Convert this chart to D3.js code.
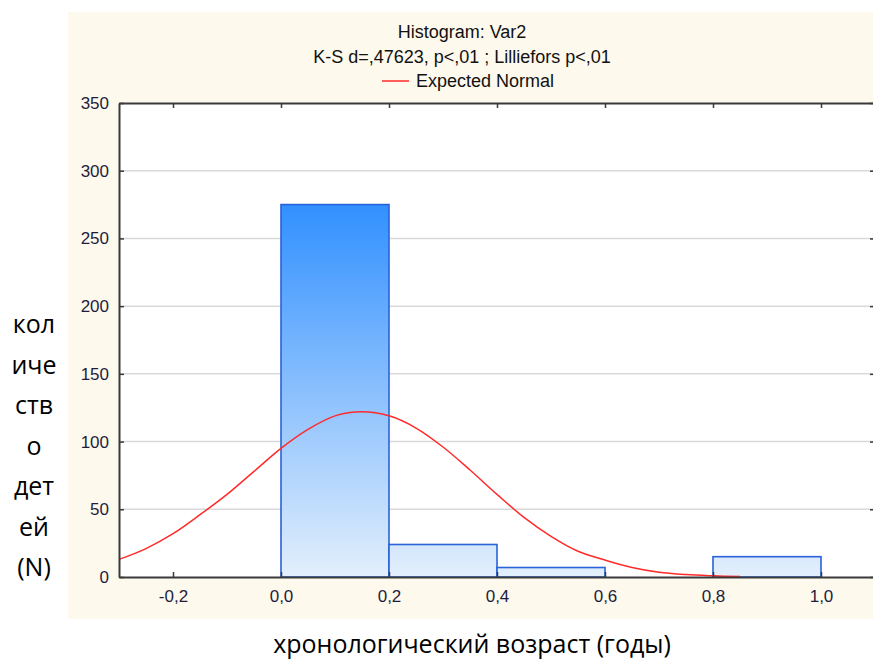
<!DOCTYPE html>
<html>
<head>
<meta charset="utf-8">
<script src="https://cdn.jsdelivr.net/npm/d3@7"></script>
<style>
  body { margin: 0; background: #fff; }
  svg { display: block; }
</style>
</head>
<body>
<div id="chart"></div>
<script>
// histogram bins (left edge, right edge, count)
const binStart = [0.0, 0.2, 0.4, 0.6, 0.8];
const binEnd = [0.2, 0.4, 0.6, 0.8, 1.0];
const binCount = [275, 24, 7, 0, 15];

// expected normal curve
const curveX = [-0.3, -0.25, -0.2, -0.15, -0.1, -0.05, 0.0, 0.05, 0.1, 0.15, 0.2, 0.25,
  0.3, 0.35, 0.4, 0.45, 0.5, 0.55, 0.6, 0.65, 0.7, 0.75, 0.8, 0.85];
const curveY = [13, 21, 32, 46, 61, 78, 95, 109, 119, 122, 119, 110,
  96, 79, 61, 44, 30, 19, 12.5, 7, 3.5, 1.8, 0.9, 0.3];

const xTicks = [-0.2, 0.0, 0.2, 0.4, 0.6, 0.8, 1.0];
const yTicks = [0, 50, 100, 150, 200, 250, 300, 350];

const titleLines = ["Histogram: Var2", "K-S d=,47623, p<,01 ; Lilliefors p<,01"];
const legendLabel = "Expected Normal";
const yTitleLines = ["кол", "иче", "ств", "о", "дет", "ей", "(N)"];
const xTitle = "хронологический возраст (годы)";

const W = 873, H = 662;
const plot = { left: 119, right: 875, top: 103, bottom: 577 };
const narrow = "'Liberation Sans Narrow', 'Arial Narrow', 'Liberation Sans', Arial, sans-serif";
const wordFont = "'Open Sans', 'Noto Sans', sans-serif";

const svg = d3.select("#chart").append("svg")
  .attr("width", W).attr("height", H);

// cream panel
svg.append("rect")
  .attr("x", 68).attr("y", 12)
  .attr("width", W - 68).attr("height", 607)
  .attr("fill", "#fdf9ed");

const x = d3.scaleLinear().domain([-0.3, 1.1]).range([plot.left, plot.right]);
const y = d3.scaleLinear().domain([0, 350]).range([plot.bottom, plot.top]);

svg.append("rect")
  .attr("x", plot.left).attr("y", plot.top)
  .attr("width", plot.right - plot.left).attr("height", plot.bottom - plot.top)
  .attr("fill", "#fff");

// gridlines
svg.append("g")
  .selectAll("line")
  .data(yTicks.filter((d) => d > 0 && d < 350))
  .join("line")
  .attr("x1", plot.left).attr("x2", plot.right)
  .attr("y1", (d) => y(d)).attr("y2", (d) => y(d))
  .attr("stroke", "#d9d9d9").attr("stroke-width", 1.5);

// gradient in plot space: dark at top of tallest bar, light at bottom
const grad = svg.append("defs").append("linearGradient")
  .attr("id", "barFill")
  .attr("gradientUnits", "userSpaceOnUse")
  .attr("x1", 0).attr("x2", 0)
  .attr("y1", y(d3.max(binCount))).attr("y2", y(0));
grad.append("stop").attr("offset", "0%").attr("stop-color", "#3190ff");
grad.append("stop").attr("offset", "100%").attr("stop-color", "#e3effc");

svg.append("g")
  .selectAll("rect")
  .data(binCount.map((c, i) => ({ x0: binStart[i], x1: binEnd[i], c })).filter((d) => d.c > 0))
  .join("rect")
  .attr("x", (d) => x(d.x0))
  .attr("y", (d) => y(d.c))
  .attr("width", (d) => x(d.x1) - x(d.x0))
  .attr("height", (d) => y(0) - y(d.c))
  .attr("fill", "url(#barFill)")
  .attr("stroke", "#2a62d8")
  .attr("stroke-width", 1.6);

// expected normal
const line = d3.line()
  .x((d) => x(d[0]))
  .y((d) => y(d[1]))
  .curve(d3.curveCatmullRom);

svg.append("path")
  .datum(curveX.map((v, i) => [v, curveY[i]]))
  .attr("d", line)
  .attr("fill", "none")
  .attr("stroke", "#ff2a2a")
  .attr("stroke-width", 1.5);

// axes frame
const axisColor = "#3a3a3a";
const xAxisB = d3.axisBottom(x).tickValues(xTicks).tickSizeInner(-5).tickSizeOuter(0)
  .tickFormat((d) => d3.format(".1f")(d).replace(".", ",").replace("−", "-"));
const gB = svg.append("g").attr("transform", `translate(0,${plot.bottom})`).call(xAxisB);
gB.select(".domain").attr("stroke", axisColor).attr("stroke-width", 2);
gB.selectAll(".tick line").attr("stroke", axisColor).attr("stroke-width", 1.5);
gB.selectAll(".tick text")
  .attr("y", 13).attr("dy", "0.71em")
  .attr("fill", "#1e1e3c")
  .style("font-family", narrow).style("font-size", "17px");

const gT = svg.append("g").attr("transform", `translate(0,${plot.top})`)
  .call(d3.axisTop(x).tickValues(xTicks).tickSizeInner(-5).tickSizeOuter(0).tickFormat(""));
gT.select(".domain").attr("stroke", axisColor).attr("stroke-width", 2);
gT.selectAll(".tick line").attr("stroke", axisColor).attr("stroke-width", 1.5);

const yAxisL = d3.axisLeft(y).tickValues(yTicks).tickSizeInner(-5).tickSizeOuter(0);
const gL = svg.append("g").attr("transform", `translate(${plot.left},0)`).call(yAxisL);
gL.select(".domain").attr("stroke", axisColor).attr("stroke-width", 2);
gL.selectAll(".tick line").attr("stroke", axisColor).attr("stroke-width", 1.5);
gL.selectAll(".tick text")
  .attr("x", -10)
  .attr("fill", "#1e1e3c")
  .style("font-family", narrow).style("font-size", "17px");

const gR = svg.append("g").attr("transform", `translate(${plot.right},0)`)
  .call(d3.axisRight(y).tickValues(yTicks).tickSizeInner(-5).tickSizeOuter(0).tickFormat(""));
gR.select(".domain").attr("stroke", axisColor).attr("stroke-width", 2);
gR.selectAll(".tick line").attr("stroke", axisColor).attr("stroke-width", 1.5);

// titles
const cx = 462;
svg.append("g")
  .selectAll("text")
  .data(titleLines)
  .join("text")
  .attr("x", cx)
  .attr("y", (d, i) => 38 + i * 25)
  .attr("text-anchor", "middle")
  .attr("fill", "#111")
  .style("font-family", narrow).style("font-size", "18px")
  .text((d) => d);

// legend
svg.append("line")
  .attr("x1", 382).attr("x2", 409)
  .attr("y1", 81).attr("y2", 81)
  .attr("stroke", "#ff2a2a").attr("stroke-width", 1.5);
svg.append("text")
  .attr("x", 416).attr("y", 87)
  .attr("fill", "#111")
  .style("font-family", narrow).style("font-size", "18px")
  .text(legendLabel);

// y title, broken into short lines
svg.append("g")
  .selectAll("text")
  .data(yTitleLines)
  .join("text")
  .attr("x", 34)
  .attr("y", (d, i) => 333 + i * 40.5)
  .attr("text-anchor", "middle")
  .attr("fill", "#000")
  .style("font-family", wordFont).style("font-size", "25px")
  .text((d) => d);

svg.append("text")
  .attr("x", 472).attr("y", 653)
  .attr("text-anchor", "middle")
  .attr("fill", "#000")
  .style("font-family", wordFont).style("font-size", "25px")
  .text(xTitle);
</script>
</body>
</html>
